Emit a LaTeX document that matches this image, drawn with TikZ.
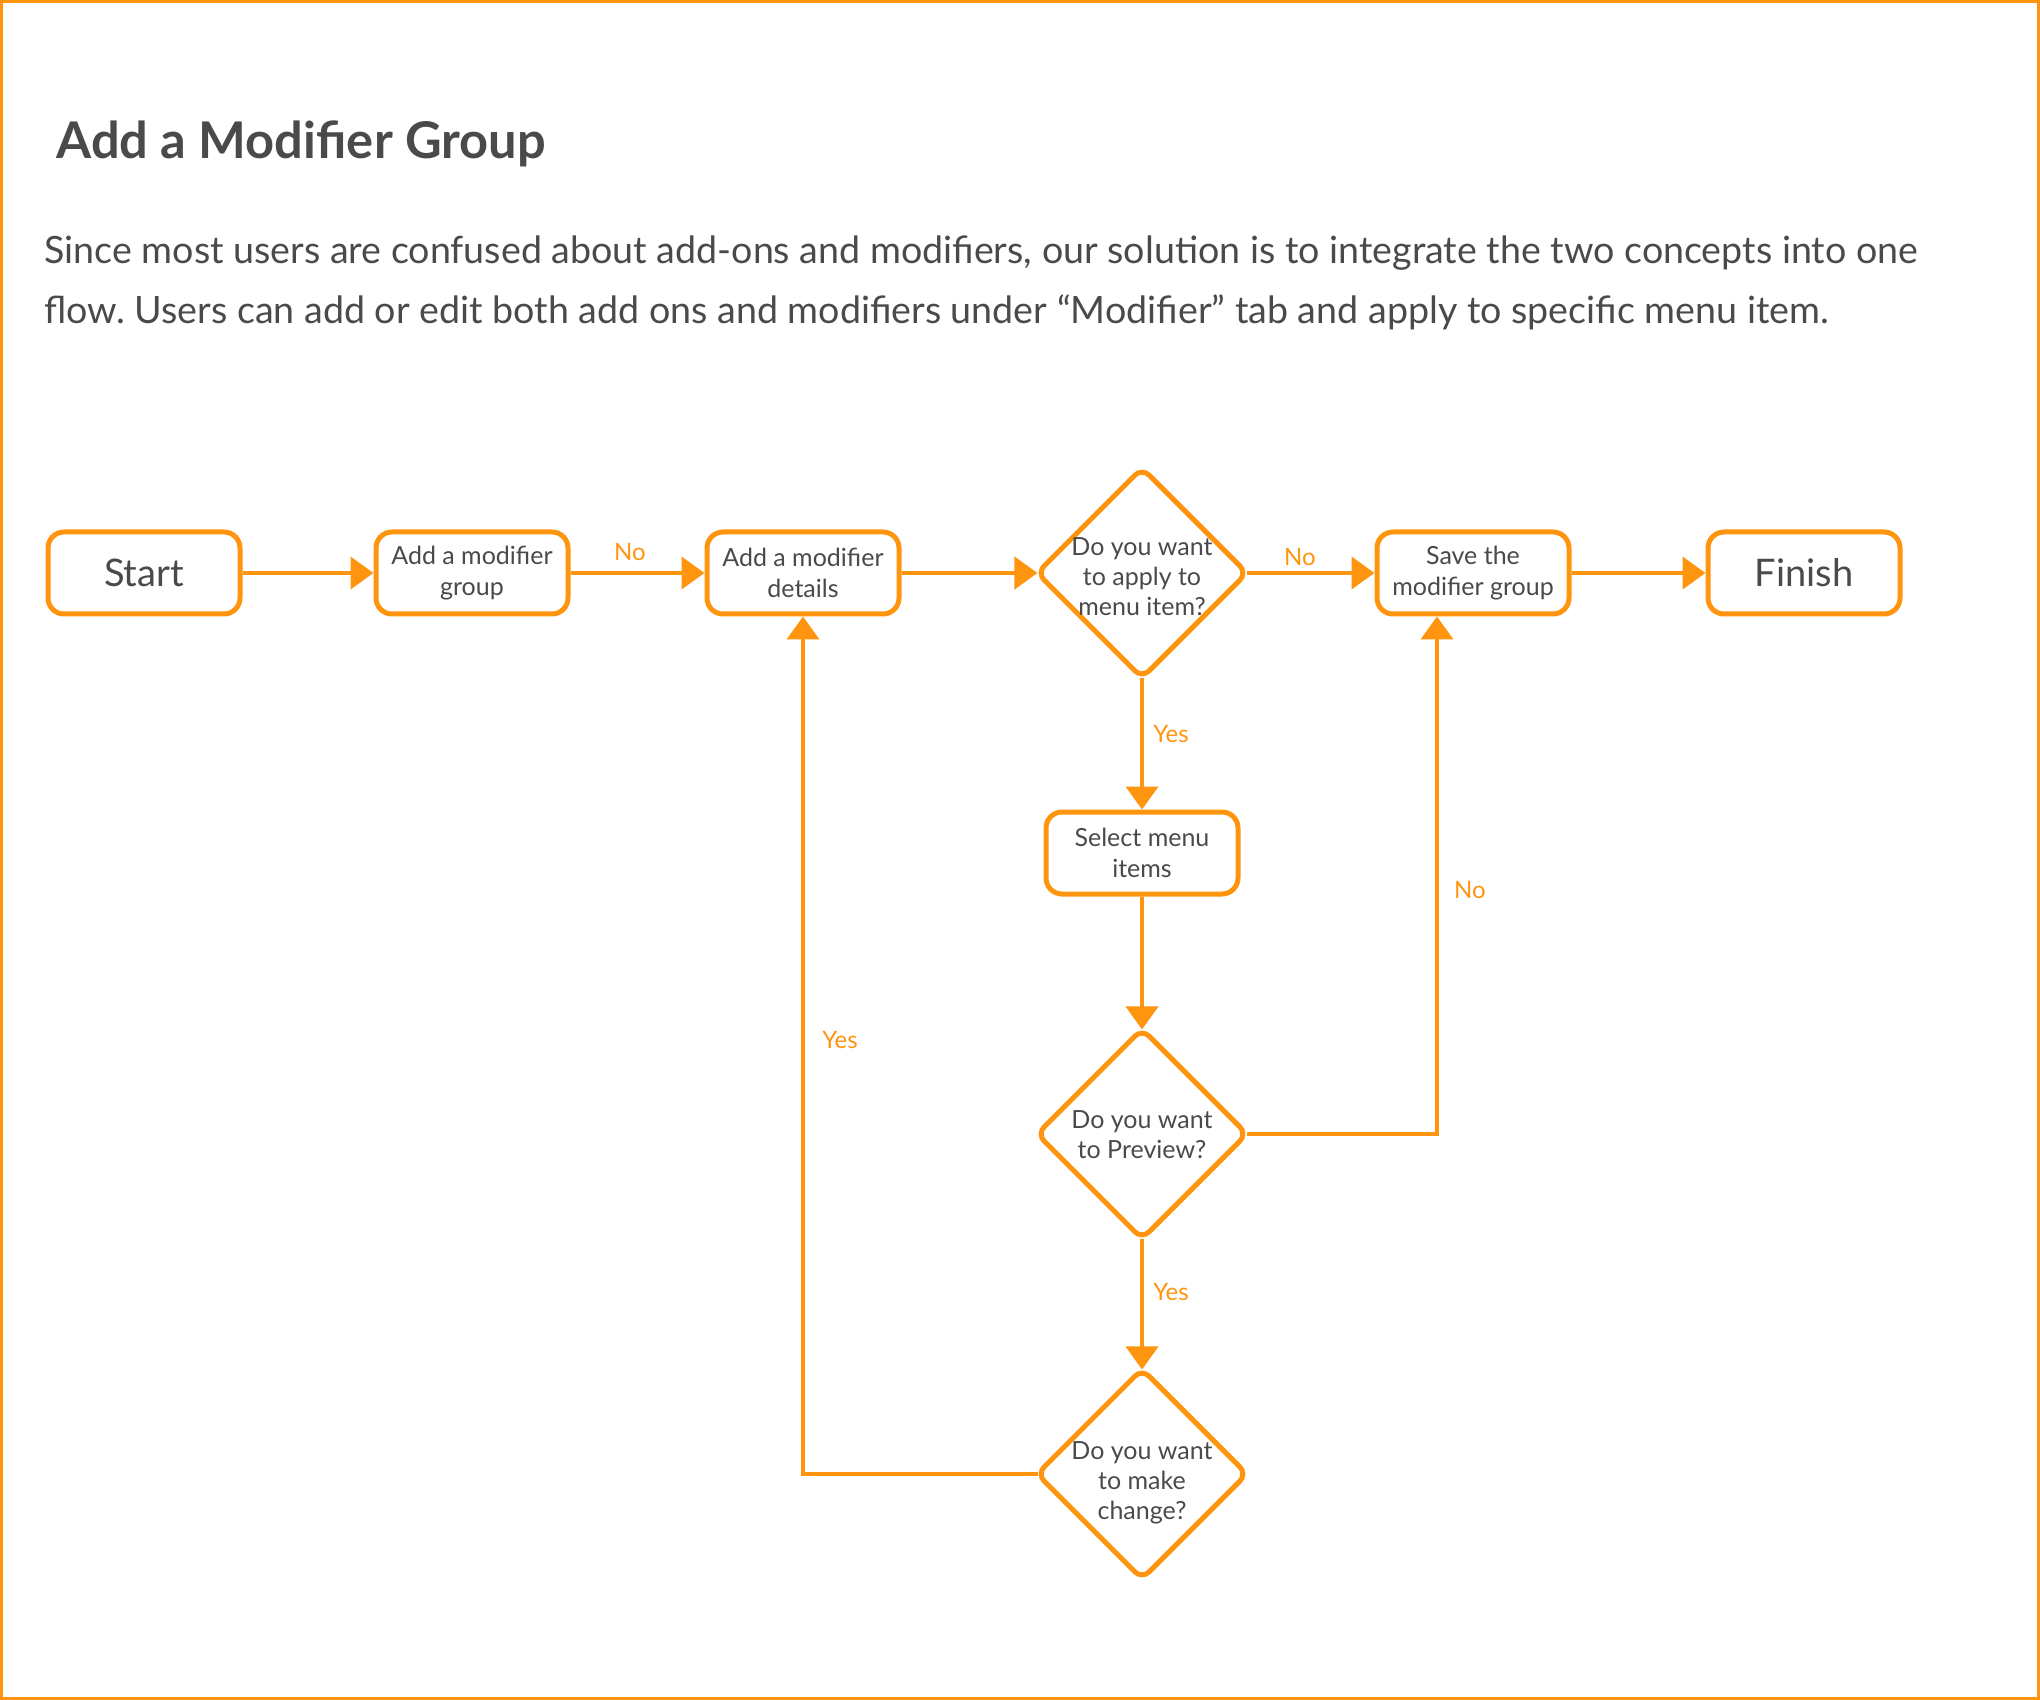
\documentclass[tikz,border=0pt]{standalone}
\usepackage{fontspec}
\setmainfont{Lato}
\usetikzlibrary{shapes.geometric,arrows.meta}
\definecolor{flow}{RGB}{255,148,14}
\definecolor{ink}{RGB}{74,74,74}
\frenchspacing
\tikzset{
  box/.style={draw=flow,line width=2.5pt,rounded corners=8pt,fill=white,
    minimum width=96pt,minimum height=41pt,inner sep=2pt,align=center,
    text=ink,font=\fontsize{12.5}{15.5}\selectfont},
  bigbox/.style={box,font=\fontsize{19}{22}\selectfont},
  ask/.style={draw=flow,line width=2.5pt,diamond,rounded corners=5pt,
    minimum width=106pt,minimum height=106pt,inner sep=0pt},
  asktext/.style={text=ink,align=center,font=\fontsize{12.5}{15}\selectfont},
  arr/.style={draw=flow,line width=2pt,-{Triangle[length=11.5pt,width=16pt]}},
  tag/.style={text=flow,font=\fontsize{12}{14}\selectfont},
}
\begin{document}
\begin{tikzpicture}[x=0.5pt,y=-0.5pt]
\useasboundingbox (0,0) rectangle (2040,1700);
\draw[flow,line width=1.5pt] (1.5,1.5) rectangle (2038.5,1698.5);

\node[anchor=base west,inner sep=0pt,text=ink,font=\fontsize{25.3}{28}\bfseries] (title) at (56,159) {Add a Modifier Group};
\node[anchor=base west,inner sep=0pt,text=ink,font=\fontsize{18.8}{30}\selectfont] (intro1) at (44,264)
  {Since most users are confused about add-ons and modifiers, our solution is to integrate the two concepts into one};
\node[anchor=base west,inner sep=0pt,text=ink,font=\fontsize{18.8}{30}\selectfont] (intro2) at (44,324)
  {flow. Users can add or edit both add ons and modifiers under “Modifier” tab and apply to specific menu item.};

\node[bigbox] (start) at (144,573) {Start};
\node[box] (group) at (472,573) {Add a modifier\\group};
\node[box] (details) at (803,573) {Add a modifier\\details};
\node[ask,label={[asktext,yshift=-2pt]center:{Do you want\\to apply to\\menu item?}}] (q1) at (1142,573) {};
\node[box] (save) at (1473,573) {Save the\\modifier group};
\node[bigbox] (finish) at (1804,573) {Finish};
\node[box] (select) at (1142,853) {Select menu\\items};
\node[ask,label={[asktext,yshift=-0.5pt]center:{Do you want\\to Preview?}}] (q2) at (1142,1134) {};
\node[ask,label={[asktext,yshift=-4.5pt]center:{Do you want\\to make\\change?}}] (q3) at (1142,1474) {};

\foreach \a/\b in {start/group,group/details,save/finish}
  \draw[arr] (\a)--(\b);
\draw[arr,shorten >=-2pt] (details)--(q1);
\draw[arr,shorten <=-2pt] (q1)--(save);
\draw[arr,shorten <=-2pt] (q1)--(select);
\draw[arr,shorten >=-2pt] (select)--(q2);
\draw[arr,shorten <=-2pt,shorten >=-2pt] (q2)--(q3);
\draw[arr,shorten <=-2pt] (q3.west) -| (details.south);
\draw[arr,shorten <=-2pt] (q2.east) -| ([xshift=-18pt]save.south);

\node[tag] (no1) at (630,552) {No};
\node[tag] (no2) at (1300,557) {No};
\node[tag] (no3) at (1470,890) {No};
\node[tag] (yes1) at (1171,734) {Yes};
\node[tag] (yes2) at (1171,1292) {Yes};
\node[tag] (yes3) at (840,1040) {Yes};
\end{tikzpicture}
\end{document}
